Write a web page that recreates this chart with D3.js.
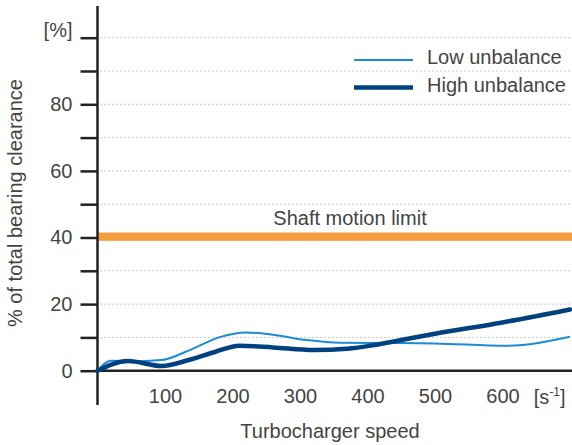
<!DOCTYPE html>
<html>
<head>
<meta charset="utf-8">
<script src="https://cdn.jsdelivr.net/npm/d3@7"></script>
<style>
  body { margin: 0; background: #fff; }
  text { font-family: "Liberation Sans", Arial, sans-serif; fill: #444; }
</style>
</head>
<body>
<div id="chart"></div>
<script>
// speed [1/s] and % of bearing clearance
const lowSpeed  = [0, 20, 50, 95, 140, 180, 220, 260, 310, 360, 450, 500, 605, 700];
const lowValue  = [0, 3, 2.8, 3.2, 6.5, 10, 11.5, 10.8, 9.2, 8.4, 8.3, 8.2, 7.5, 10.2];
const highSpeed = [0, 45, 95, 135, 175, 210, 260, 320, 370, 410, 450, 500, 600, 700];
const highValue = [0, 2.9, 1.4, 3.2, 5.7, 7.5, 7.0, 6.2, 6.6, 7.7, 9.2, 11.1, 14.5, 18.4];

const limitBand = [39, 41.5]; // shaft motion limit
const xTicks = [100, 200, 300, 400, 500, 600];
const yTicks = [0, 10, 20, 30, 40, 50, 60, 70, 80, 90, 100];
const yLabels = {0: "0", 20: "20", 40: "40", 60: "60", 80: "80", 100: "[%]"};
const seriesNames = ["Low unbalance", "High unbalance"];

const width = 572, height = 445;
const lightBlue = "#1a8cd5", darkBlue = "#004180", orange = "#f59c3c";

const svg = d3.select("#chart").append("svg")
    .attr("width", width)
    .attr("height", height);

const x = d3.scaleLinear().domain([0, 703]).range([97.5, 572]);
const y = d3.scaleLinear().domain([0, 100]).range([370.7, 37.7]);

// dotted grid
svg.append("g")
  .selectAll("line")
  .data(yTicks.filter(d => d > 0))
  .join("line")
    .attr("x1", x(0) + 3)
    .attr("x2", width)
    .attr("y1", d => y(d))
    .attr("y2", d => y(d))
    .attr("stroke", "#aaa")
    .attr("stroke-width", 1)
    .attr("stroke-dasharray", "1.3,2.7");

// shaft motion limit band
svg.append("rect")
    .attr("x", x(0))
    .attr("width", width - x(0))
    .attr("y", y(limitBand[1]))
    .attr("height", y(limitBand[0]) - y(limitBand[1]))
    .attr("fill", orange);

svg.append("text")
    .attr("x", 350)
    .attr("y", y(limitBand[1]) - 8)
    .attr("text-anchor", "middle")
    .attr("font-size", 20)
    .text("Shaft motion limit");

// y axis: ticks to the left, labels only on some
const yAxis = svg.append("g")
    .attr("transform", `translate(${x(0)},0)`)
    .call(d3.axisLeft(y).tickValues(yTicks).tickSize(17).tickFormat(d => yLabels[d] || ""));
yAxis.select(".domain").remove();
yAxis.selectAll(".tick line").attr("stroke", "#222").attr("stroke-width", 2.5);
yAxis.selectAll(".tick text")
    .attr("x", -25)
    .attr("fill", "#444")
    .attr("font-size", 20)
    .attr("font-family", "Liberation Sans, Arial, sans-serif")
    .attr("dy", d => d === 100 ? "-0.05em" : "0.32em");

svg.append("line")
    .attr("x1", x(0)).attr("x2", x(0))
    .attr("y1", 6).attr("y2", 405)
    .attr("stroke", "#222").attr("stroke-width", 2.5);

// x axis
const xAxis = svg.append("g")
    .attr("transform", `translate(0,${y(0)})`)
    .call(d3.axisBottom(x).tickValues(xTicks).tickSize(0).tickPadding(18));
xAxis.select(".domain").remove();
xAxis.selectAll(".tick text")
    .attr("fill", "#444")
    .attr("font-size", 20)
    .attr("font-family", "Liberation Sans, Arial, sans-serif");

svg.append("line")
    .attr("x1", x(0)).attr("x2", width)
    .attr("y1", y(0)).attr("y2", y(0))
    .attr("stroke", "#222").attr("stroke-width", 2.5);

const unit = svg.append("text")
    .attr("x", x(670))
    .attr("y", y(0) + 33)
    .attr("text-anchor", "middle")
    .attr("font-size", 20);
unit.append("tspan").text("[s");
unit.append("tspan").attr("font-size", 12).attr("dy", -8).text("-1");
unit.append("tspan").attr("dy", 8).text("]");

svg.append("text")
    .attr("x", 330)
    .attr("y", 438)
    .attr("text-anchor", "middle")
    .attr("font-size", 20)
    .text("Turbocharger speed");

svg.append("text")
    .attr("transform", "translate(22,203) rotate(-90)")
    .attr("text-anchor", "middle")
    .attr("font-size", 20)
    .text("% of total bearing clearance");

// curves
const line = d3.line()
    .x(d => x(d[0]))
    .y(d => y(d[1]))
    .curve(d3.curveMonotoneX);

svg.append("path")
    .datum(d3.zip(lowSpeed, lowValue))
    .attr("fill", "none")
    .attr("stroke", lightBlue)
    .attr("stroke-width", 2)
    .attr("d", line);

svg.append("path")
    .datum(d3.zip(highSpeed, highValue))
    .attr("fill", "none")
    .attr("stroke", darkBlue)
    .attr("stroke-width", 4.5)
    .attr("stroke-linecap", "round")
    .attr("d", line);

// legend
const legend = svg.append("g")
  .selectAll("g")
  .data(seriesNames)
  .join("g")
    .attr("transform", (d, i) => `translate(354,${60 + i * 27.5})`);

legend.append("line")
    .attr("x1", 0).attr("x2", 59)
    .attr("stroke", (d, i) => i ? darkBlue : lightBlue)
    .attr("stroke-width", (d, i) => i ? 4.5 : 2);

legend.append("text")
    .attr("x", 73)
    .attr("y", -2)
    .attr("dy", "0.32em")
    .attr("font-size", 20)
    .text(d => d);
</script>
</body>
</html>
